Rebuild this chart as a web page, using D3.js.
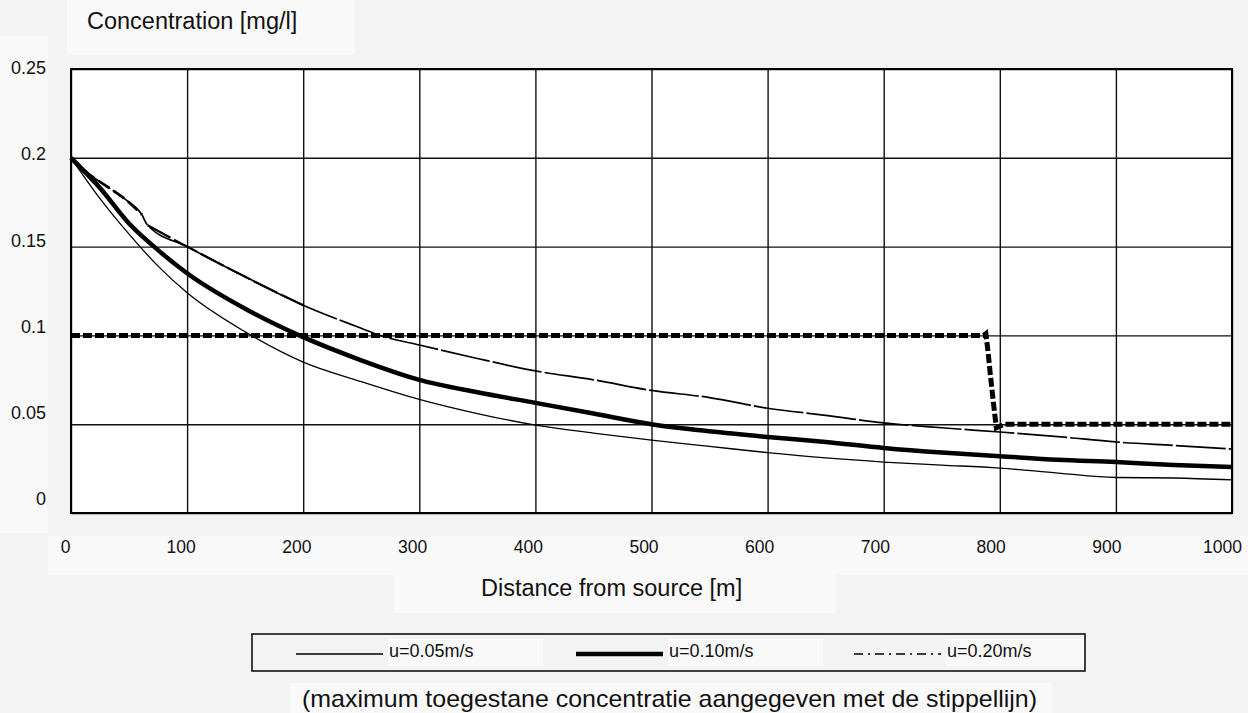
<!DOCTYPE html>
<html>
<head>
<meta charset="utf-8">
<script src="https://cdnjs.cloudflare.com/ajax/libs/d3/7.8.5/d3.min.js"></script>
<style>
  html, body { margin: 0; padding: 0; background: #f3f3f3; }
  svg { display: block; font-family: Arial, "Liberation Sans", sans-serif; }
</style>
</head>
<body>
<script>
// distance from source [m]
const distance = [0, 25, 50, 75, 100, 150, 200, 250, 300, 350, 400, 450, 500,
    550, 600, 650, 700, 750, 800, 850, 900, 950, 1000];
// u = 0.05 m/s
const conc005 = [0.200, 0.177, 0.157, 0.139, 0.124, 0.102, 0.085, 0.074, 0.064, 0.056, 0.0495, 0.045, 0.041,
    0.0375, 0.034, 0.031, 0.0287, 0.027, 0.0253, 0.0225, 0.020, 0.0197, 0.0186];
// u = 0.10 m/s
const conc010 = [0.200, 0.183, 0.163, 0.148, 0.135, 0.115, 0.099, 0.086, 0.075, 0.068, 0.062, 0.056, 0.050,
    0.046, 0.0428, 0.040, 0.0366, 0.034, 0.032, 0.030, 0.0287, 0.027, 0.0259];
// u = 0.20 m/s (own x values, small kink near 60 m)
const distance020 = [0, 15, 33, 48, 61, 66, 100, 150, 200, 250, 266, 300, 350, 400, 450, 500,
    550, 600, 650, 700, 750, 800, 850, 900, 950, 1000];
const conc020 = [0.200, 0.191, 0.183, 0.176, 0.168, 0.162, 0.150, 0.133, 0.117, 0.104, 0.100, 0.0946, 0.087, 0.080, 0.075, 0.069,
    0.065, 0.059, 0.055, 0.0507, 0.048, 0.0456, 0.043, 0.040, 0.038, 0.036];
// maximum allowed concentration (dotted line)
const limitDistance = [0, 786, 788, 790, 792, 794, 797, 804, 1000];
const limitConc = [0.1, 0.1, 0.101, 0.090, 0.077, 0.065, 0.048, 0.05, 0.05];

const seriesNames = ["u=0.05m/s", "u=0.10m/s", "u=0.20m/s"];
const xTicks = [0, 100, 200, 300, 400, 500, 600, 700, 800, 900, 1000];
const yTicks = [0, 0.05, 0.1, 0.15, 0.2, 0.25];

const yTitle = "Concentration [mg/l]";
const xTitle = "Distance from source [m]";
const note = "(maximum toegestane concentratie aangegeven met de stippellijn)";

const svgData = {
    width: 1248,
    height: 713,
    left: 71,
    right: 1232,
    top: 69,
    bottom: 513,
    box: "#f9f9f9"
};

const svg = d3.select("body").append("svg")
    .attr("width", svgData.width)
    .attr("height", svgData.height);

// slightly lighter boxes behind the texts
const boxes = [
    [67, 0, 288, 55],      // y title
    [0, 36, 48, 497],      // y tick labels
    [48, 536, 1200, 39],   // x tick labels
    [394, 575, 442, 38],   // x title
    [290, 683, 762, 30]    // note
];
svg.selectAll("rect.box")
    .data(boxes)
    .enter()
    .append("rect")
    .attr("class", "box")
    .attr("x", d => d[0]).attr("y", d => d[1])
    .attr("width", d => d[2]).attr("height", d => d[3])
    .attr("fill", svgData.box);

const x = d3.scaleLinear().domain([0, 1000]).range([svgData.left, svgData.right]);
const y = d3.scaleLinear().domain([0, 0.25]).range([svgData.bottom, svgData.top]);
// tick labels in the original sit a bit off the grid lines
const xLabel = d3.scaleLinear().domain([0, 1000]).range([65, 1222]);
const yLabel = d3.scaleLinear().domain([0, 0.25]).range([499, 68]);

// plot area
svg.append("rect")
    .attr("x", svgData.left).attr("y", svgData.top)
    .attr("width", svgData.right - svgData.left)
    .attr("height", svgData.bottom - svgData.top)
    .attr("fill", "#fff");

// grid
const gx = svg.append("g")
    .attr("transform", "translate(0," + svgData.bottom + ")")
    .call(d3.axisBottom(x).tickValues(xTicks).tickSize(-(svgData.bottom - svgData.top)).tickFormat(""));
const gy = svg.append("g")
    .attr("transform", "translate(" + svgData.left + ",0)")
    .call(d3.axisLeft(y).tickValues(yTicks).tickSize(-(svgData.right - svgData.left)).tickFormat(""));
[gx, gy].forEach(g => {
    g.select(".domain").remove();
    g.selectAll("line").attr("stroke", "#111").attr("stroke-width", 1.4);
});

svg.append("rect")
    .attr("x", svgData.left).attr("y", svgData.top)
    .attr("width", svgData.right - svgData.left)
    .attr("height", svgData.bottom - svgData.top)
    .attr("fill", "none")
    .attr("stroke", "#000")
    .attr("stroke-width", 2);

// tick labels
const lx = svg.append("g")
    .attr("transform", "translate(0,541)")
    .call(d3.axisBottom(xLabel).tickValues(xTicks).tickSize(0).tickPadding(0).tickFormat(d3.format("d")));
lx.select(".domain").remove();
lx.selectAll("text")
    .attr("font-family", "Arial, 'Liberation Sans', sans-serif")
    .attr("font-size", 17.5)
    .attr("fill", "#111");

svg.append("clipPath").attr("id", "ylab")
    .append("rect").attr("x", 0).attr("y", 0).attr("width", 47.5).attr("height", svgData.height);
const ly = svg.append("g")
    .attr("clip-path", "url(#ylab)")
    .append("g")
    .attr("transform", "translate(46,0)")
    .call(d3.axisLeft(yLabel).tickValues(yTicks).tickSize(0).tickPadding(0)
        .tickFormat(d => String(+d.toFixed(2))));
ly.select(".domain").remove();
ly.selectAll("text")
    .attr("font-family", "Arial, 'Liberation Sans', sans-serif")
    .attr("font-size", 18)
    .attr("fill", "#111");

// titles
svg.append("text").attr("x", 87).attr("y", 29)
    .attr("font-size", 23.5).attr("fill", "#111").text(yTitle);
svg.append("text").attr("x", 481).attr("y", 596)
    .attr("font-size", 23.5).attr("fill", "#111").text(xTitle);
svg.append("text").attr("x", 302).attr("y", 707)
    .attr("font-size", 24).attr("fill", "#111")
    .attr("textLength", 735).attr("lengthAdjust", "spacingAndGlyphs")
    .text(note);

// lines
const line = d3.line()
    .x(d => x(d[0]))
    .y(d => y(d[1]))
    .curve(d3.curveMonotoneX);

const styles = [
    { width: 1.3, dash: null, legendDash: null },
    { width: 4.5, dash: null, legendDash: null },
    { width: 1.7, dash: "50,3", legendDash: "9,5,2,5" }
];
const series = [
    d3.zip(distance, conc005),
    d3.zip(distance, conc010),
    d3.zip(distance020, conc020)
];

svg.append("path")
    .datum(d3.zip(limitDistance, limitConc))
    .attr("d", d3.line().x(d => x(d[0])).y(d => y(d[1])))
    .attr("fill", "none")
    .attr("stroke", "#000")
    .attr("stroke-width", 5)
    .attr("stroke-dasharray", "9,3");

svg.selectAll("path.series")
    .data(series)
    .enter()
    .append("path")
    .attr("class", "series")
    .attr("d", line)
    .attr("fill", "none")
    .attr("stroke", "#000")
    .attr("stroke-width", (d, i) => styles[i].width)
    .attr("stroke-dasharray", (d, i) => styles[i].dash);

// the u=0.20 line is drawn heavier with shorter dashes near the source
svg.append("path")
    .datum(series[2].filter(d => d[0] <= 61))
    .attr("d", line)
    .attr("fill", "none")
    .attr("stroke", "#000")
    .attr("stroke-width", 2.8)
    .attr("stroke-dasharray", "13,5");
svg.append("path")
    .datum(series[2].filter(d => d[0] >= 66 && d[0] <= 200))
    .attr("d", line)
    .attr("fill", "none")
    .attr("stroke", "#000")
    .attr("stroke-width", 2.2)
    .attr("stroke-dasharray", "26,4");

// legend
svg.append("rect")
    .attr("x", 252).attr("y", 634)
    .attr("width", 833).attr("height", 37)
    .attr("fill", "none")
    .attr("stroke", "#111")
    .attr("stroke-width", 1.6);

const legendX = [296, 576, 854];
const item = svg.selectAll("g.item")
    .data(seriesNames)
    .enter()
    .append("g")
    .attr("class", "item")
    .attr("transform", (d, i) => "translate(" + legendX[i] + ",0)");
item.append("rect")
    .attr("x", 92).attr("y", 639)
    .attr("width", (d, i) => Math.min(155, 1084 - legendX[i] - 92)).attr("height", 27)
    .attr("fill", svgData.box);
item.append("line")
    .attr("x1", 0).attr("x2", 87)
    .attr("y1", 654).attr("y2", 654)
    .attr("stroke", "#000")
    .attr("stroke-width", (d, i) => styles[i].width)
    .attr("stroke-dasharray", (d, i) => styles[i].legendDash);
item.append("text")
    .attr("x", 93).attr("y", 657)
    .attr("font-size", 18)
    .attr("fill", "#111")
    .text(d => d);
</script>
</body>
</html>
